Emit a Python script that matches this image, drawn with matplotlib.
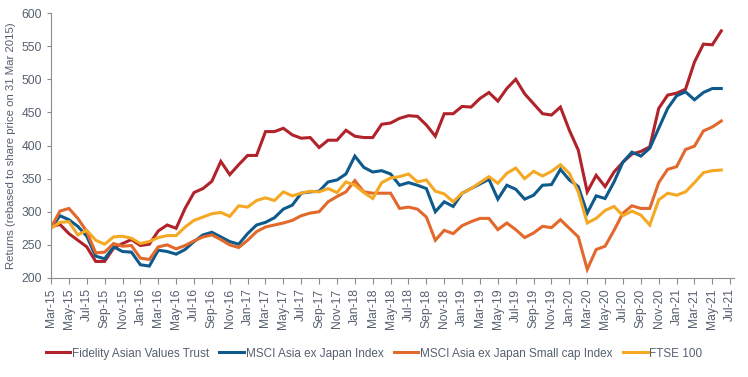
import matplotlib
matplotlib.use("Agg")
import matplotlib.pyplot as plt
import pandas as pd

plt.rcParams['font.family'] = ['Liberation Sans', 'DejaVu Sans']

# monthly points, Mar-15 .. Jun-21
months = pd.date_range('2015-03-01', periods=77, freq='MS')   # axis runs to Jul-21
tick_labels = [d.strftime('%b-%y') for d in months[::2]]

fidelity = [277, 281, 267, 257, 247, 225, 225, 245, 252, 258, 249, 251, 271, 280, 275, 305,
            329, 335, 346, 376, 356, 371, 385, 385, 421, 421, 426, 416, 411, 412, 397, 408,
            408, 423, 414, 412, 412, 432, 434, 441, 445, 444, 431, 414, 448, 448, 459, 458,
            471, 480, 467, 486, 500, 478, 463, 448, 446, 458, 423, 393, 330, 355, 338, 360,
            375, 387, 391, 398, 456, 476, 479, 485, 526, 553, 552, 573]
msci = [275, 294, 288, 278, 263, 233, 229, 247, 240, 239, 220, 218, 242, 240, 236, 243,
        255, 265, 269, 262, 255, 251, 267, 280, 284, 291, 304, 310, 328, 330, 331, 345,
        348, 357, 384, 367, 360, 362, 357, 340, 344, 340, 335, 300, 315, 308, 328, 335,
        342, 349, 319, 340, 334, 319, 325, 340, 341, 364, 348, 338, 298, 324, 320, 345,
        375, 390, 384, 396, 426, 456, 475, 481, 469, 480, 486, 486]
msci_small = [276, 301, 305, 290, 270, 238, 239, 252, 248, 249, 230, 228, 247, 250, 244, 249,
              256, 262, 265, 258, 250, 246, 257, 270, 277, 280, 283, 287, 294, 298, 300, 315,
              323, 330, 347, 330, 328, 328, 328, 305, 307, 304, 292, 257, 272, 267, 279, 285,
              290, 290, 273, 283, 273, 261, 268, 278, 276, 288, 275, 262, 213, 243, 248, 272,
              298, 309, 305, 305, 344, 364, 368, 394, 399, 422, 428, 437]
ftse = [275, 284, 285, 265, 272, 257, 251, 262, 263, 260, 252, 255, 261, 264, 264, 277,
        287, 292, 297, 299, 293, 309, 307, 317, 321, 317, 330, 324, 328, 331, 330, 335,
        329, 345, 340, 329, 320, 344, 351, 353, 357, 345, 348, 331, 327, 315, 328, 335,
        344, 353, 343, 358, 366, 350, 361, 354, 361, 371, 358, 330, 283, 290, 302, 308,
        294, 301, 295, 280, 318, 328, 325, 330, 344, 359, 362, 363]

series = [
    ('Fidelity Asian Values Trust', fidelity, '#B1232B'),
    ('MSCI Asia ex Japan Index', msci, '#0F5A8C'),
    ('MSCI Asia ex Japan Small cap Index', msci_small, '#E2692B'),
    ('FTSE 100', ftse, '#F5A823'),
]

fig = plt.figure(figsize=(7.48, 3.77), dpi=100)
ax = fig.add_axes([0.0682, 0.2626, 0.9128, 0.7029])

for name, vals, col in series:
    ax.plot(range(len(vals)), vals, color=col, lw=2.2, label=name, solid_joinstyle='miter')

grey = '#8C8C8C'
text_col = '#56606E'
ax.set_xlim(0, 76.4)
ax.set_ylim(200, 600)
ax.set_yticks(range(200, 601, 50))
ax.set_xticks(range(0, 77, 2))
ax.set_xticklabels(tick_labels, rotation=90)
ax.tick_params(axis='both', colors=grey, labelcolor=text_col, labelsize=8.7, length=3, width=0.8)
ax.tick_params(axis='x', length=4)
for s in ['top', 'right']:
    ax.spines[s].set_visible(False)
for s in ['left', 'bottom']:
    ax.spines[s].set_color(grey)
    ax.spines[s].set_linewidth(0.8)
ax.set_ylabel('Returns (rebased to share price on 31 Mar 2015)', color=text_col, fontsize=8.2)
ax.yaxis.set_label_coords(-0.052, 0.5)

fig.legend(loc='lower center', bbox_to_anchor=(0.5, 0.015), ncol=4, frameon=False,
           fontsize=8.5, labelcolor=text_col, handlelength=2.1, handletextpad=0.15,
           columnspacing=0.85, borderaxespad=0.6)

fig.savefig('out.png', dpi=100)
